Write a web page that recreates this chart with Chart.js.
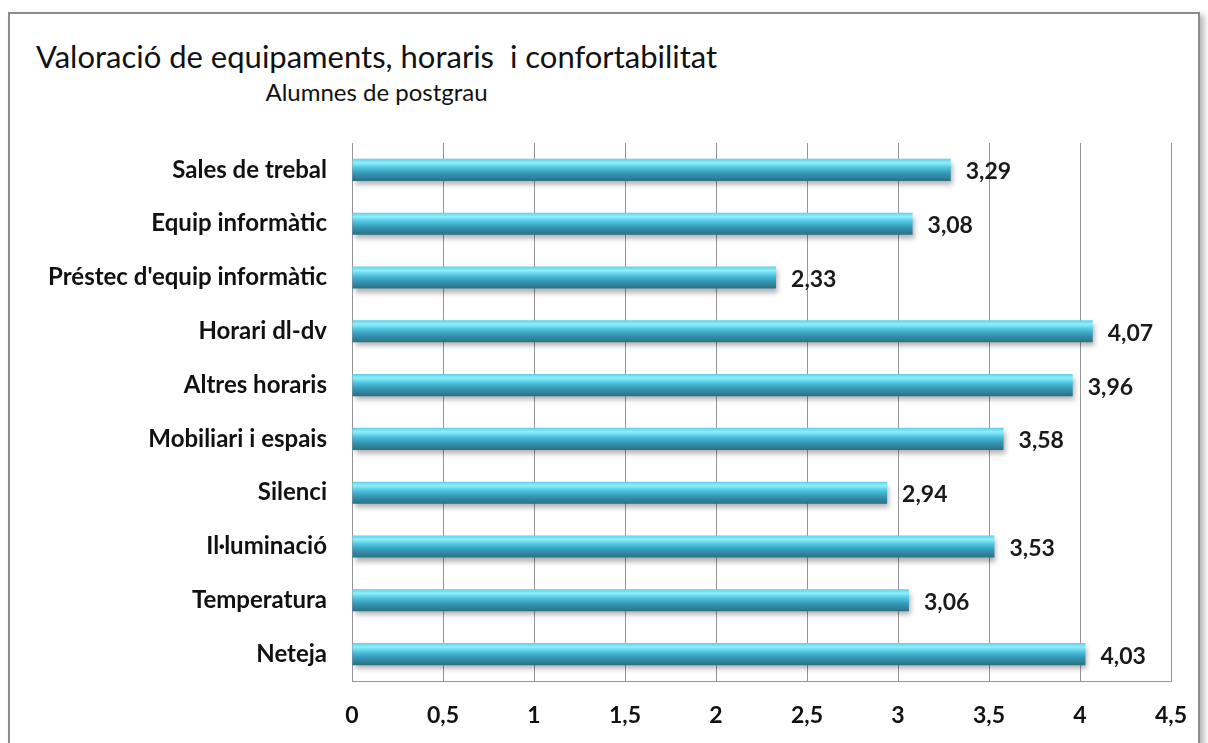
<!DOCTYPE html>
<html>
<head>
<meta charset="utf-8">
<script src="https://cdn.jsdelivr.net/npm/chart.js@4"></script>
<style>
  body { margin: 0; background: #fff; width: 1208px; height: 743px; overflow: hidden; position: relative; font-family: Lato, sans-serif; }
  #marc {
    position: absolute; left: 8px; top: 12px; width: 1188px; height: 740px;
    border: 2px solid #8c8c8c; box-shadow: 4px 3px 6px #b5b5b5; background: #fff;
  }
  #capcalera { position: absolute; left: 26px; top: 23px; text-align: center; color: #111; }
  #titol { font-size: 31px; }
  #subtitol { font-size: 24px; margin-top: 2px; }
  #lienzo { position: absolute; left: 0; top: 113px; }
</style>
</head>
<body>
<div id="marc">
  <div id="capcalera">
    <div id="titol">Valoració de equipaments, horaris&nbsp; i confortabilitat</div>
    <div id="subtitol">Alumnes de postgrau</div>
  </div>
  <canvas id="lienzo" width="1186" height="616"></canvas>
</div>
<script>
// categories i valors (escala 0 - 4,5)
const categories = [
  "Sales de trebal",
  "Equip informàtic",
  "Préstec d'equip informàtic",
  "Horari dl-dv",
  "Altres horaris",
  "Mobiliari i espais",
  "Silenci",
  "Il·luminació",
  "Temperatura",
  "Neteja"
];
const valors = [3.29, 3.08, 2.33, 4.07, 3.96, 3.58, 2.94, 3.53, 3.06, 4.03];
const ticksX = [0, 0.5, 1, 1.5, 2, 2.5, 3, 3.5, 4, 4.5];

const coma = (v) => String(v).replace('.', ',');

// color de la barra amb efecte de cilindre
function colorBarra(context) {
  const chart = context.chart;
  const escalaY = chart.scales.y;
  if (!chart.chartArea || !escalaY) return '#3fb4d2';
  const y = escalaY.getPixelForValue(context.dataIndex);
  const g = chart.ctx.createLinearGradient(0, y - 11, 0, y + 11);
  g.addColorStop(0, '#5fcfe6');
  g.addColorStop(0.18, '#8ff0fb');
  g.addColorStop(0.4, '#4fc4e0');
  g.addColorStop(0.65, '#3799b6');
  g.addColorStop(1, '#2a7085');
  return g;
}

// ombra sota les barres
const ombra = {
  id: 'ombra',
  beforeDatasetsDraw(chart) {
    const ctx = chart.ctx;
    ctx.save();
    ctx.shadowColor = 'rgba(0,0,0,0.3)';
    ctx.shadowBlur = 5;
    ctx.shadowOffsetX = 2;
    ctx.shadowOffsetY = 4;
  },
  afterDatasetsDraw(chart) {
    chart.ctx.restore();
  }
};

// etiquetes de valor a la dreta de cada barra
const etiquetes = {
  id: 'etiquetes',
  afterDatasetsDraw(chart) {
    const ctx = chart.ctx;
    const meta = chart.getDatasetMeta(0);
    ctx.save();
    ctx.font = 'bold 23px Lato';
    ctx.fillStyle = '#1a1a1a';
    ctx.textAlign = 'left';
    ctx.textBaseline = 'middle';
    meta.data.forEach((barra, i) => {
      ctx.fillText(coma(valors[i]), barra.x + 15, barra.y + 2);
    });
    ctx.restore();
  }
};

new Chart(document.getElementById('lienzo'), {
  type: 'bar',
  data: {
    labels: categories,
    datasets: [{
      data: valors,
      backgroundColor: colorBarra,
      borderWidth: 0,
      barPercentage: 0.82,
      categoryPercentage: 0.5
    }]
  },
  options: {
    indexAxis: 'y',
    responsive: false,
    animation: false,
    layout: { padding: { top: 16, right: 25, left: 0, bottom: 0 } },
    plugins: {
      legend: { display: false },
      tooltip: { enabled: false }
    },
    scales: {
      x: {
        min: 0,
        max: 4.5,
        afterBuildTicks: (axis) => { axis.ticks = ticksX.map(v => ({ value: v })); },
        afterFit: (axis) => { axis.height = 62; axis.paddingLeft = 0; axis.paddingRight = 0; },
        grid: { color: '#959595', lineWidth: 1, drawTicks: false },
        border: { display: true, color: '#959595' },
        ticks: {
          padding: 21,
          color: '#111',
          font: { family: 'Lato', size: 23, weight: 'bold' },
          callback: (v) => coma(v)
        }
      },
      y: {
        afterFit: (axis) => { axis.width = 342; axis.paddingTop = 0; axis.paddingBottom = 0; },
        grid: { display: false, drawTicks: false },
        border: { display: true, color: '#959595' },
        ticks: {
          padding: 25,
          color: '#111',
          font: { family: 'Lato', size: 24, weight: 'bold' }
        }
      }
    }
  },
  plugins: [ombra, etiquetes]
});
</script>
</body>
</html>
